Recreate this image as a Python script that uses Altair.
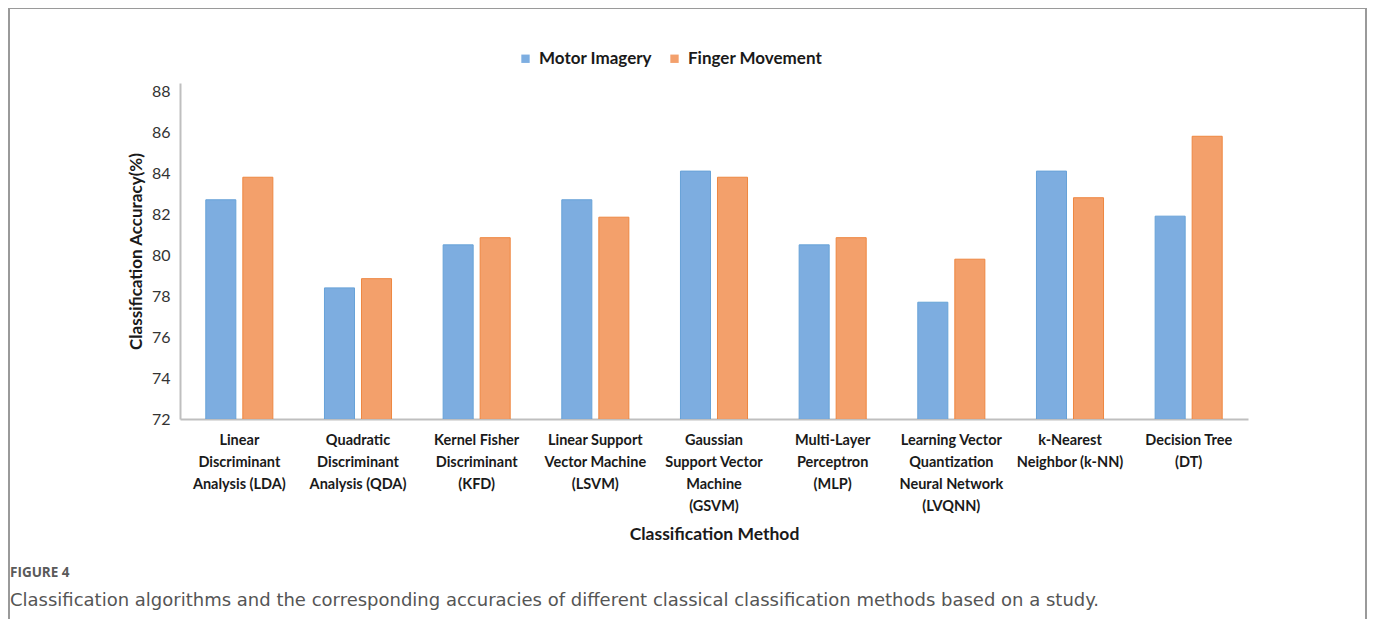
import altair as alt
import pandas as pd

methods = [
    "Linear|Discriminant|Analysis (LDA)",
    "Quadratic|Discriminant|Analysis (QDA)",
    "Kernel Fisher|Discriminant|(KFD)",
    "Linear Support|Vector Machine|(LSVM)",
    "Gaussian|Support Vector|Machine|(GSVM)",
    "Multi-Layer|Perceptron|(MLP)",
    "Learning Vector|Quantization|Neural Network|(LVQNN)",
    "k-Nearest|Neighbor (k-NN)",
    "Decision Tree|(DT)",
]
series = ["Motor Imagery", "Finger Movement"]
motor_imagery = [82.7, 78.4, 80.5, 82.7, 84.1, 80.5, 77.7, 84.1, 81.9]
finger_movement = [83.8, 78.85, 80.85, 81.85, 83.8, 80.85, 79.8, 82.8, 85.8]
y_ticks = [72, 74, 76, 78, 80, 82, 84, 86, 88]

rows = []
for i, m in enumerate(methods):
    rows.append({"method": m, "series": series[0], "value": motor_imagery[i]})
    rows.append({"method": m, "series": series[1], "value": finger_movement[i]})
df = pd.DataFrame(rows)

FONT = "Lato"

bars = alt.Chart(df).mark_bar(strokeWidth=1, opacity=0.92, clip=True).encode(
    x=alt.X(
        "method:N",
        sort=methods,
        scale=alt.Scale(paddingInner=0.376, paddingOuter=0.188),
        axis=alt.Axis(
            title="Classification Method",
            labelExpr="split(datum.label, '|')",
            labelAngle=0,
            labelFont=FONT,
            labelFontWeight="bold",
            labelFontSize=14.5,
            labelLineHeight=22,
            labelColor="#1a1a1a",
            labelPadding=14,
            labelBaseline="top",
            ticks=False,
            domainColor="#bfbfbf",
            domainWidth=2,
            titleFont=FONT,
            titleFontSize=17.5,
            titleFontWeight="bold",
            titleColor="#1a1a1a",
            titleY=115,
            titleBaseline="middle",
        ),
    ),
    xOffset=alt.XOffset(
        "series:N",
        sort=series,
        scale=alt.Scale(paddingInner=0.189, paddingOuter=0.0946),
    ),
    y=alt.Y(
        "value:Q",
        scale=alt.Scale(domain=[72, 88.4], nice=False, zero=False),
        axis=alt.Axis(
            title="Classification Accuracy(%)",
            values=y_ticks,
            grid=False,
            ticks=False,
            domainColor="#bfbfbf",
            domainWidth=2,
            labelFont=FONT,
            labelFontSize=16,
            labelColor="#333333",
            labelPadding=10,
            titleFont=FONT,
            titleFontSize=17,
            titleFontWeight="bold",
            titleColor="#1a1a1a",
            titlePadding=6,
        ),
    ),
    color=alt.Color(
        "series:N",
        sort=series,
        scale=alt.Scale(domain=series, range=["#72a7de", "#f2985f"]),
        legend=alt.Legend(
            title=None,
            orient="none",
            direction="horizontal",
            legendX=337,
            legendY=-33,
            symbolType="square",
            symbolSize=70,
            symbolStrokeWidth=0,
            labelFont=FONT,
            labelFontSize=17,
            labelFontWeight="bold",
            labelColor="#1a1a1a",
            columnPadding=14,
            labelOffset=5,
        ),
    ),
    stroke=alt.Stroke(
        "series:N",
        sort=series,
        scale=alt.Scale(domain=series, range=["#5b9bd5", "#ed7d31"]),
        legend=None,
    ),
)

one = pd.DataFrame({"k": [0]})
frame_color = "#9a9a9a"
frame_top = alt.Chart(one).mark_rule(color=frame_color, strokeWidth=2).encode(
    x=alt.value(-171), x2=alt.value(1186), y=alt.value(-75)
)
frame_left = alt.Chart(one).mark_rule(color=frame_color, strokeWidth=2).encode(
    x=alt.value(-171), y=alt.value(-75), y2=alt.value(560)
)
frame_right = alt.Chart(one).mark_rule(color=frame_color, strokeWidth=2).encode(
    x=alt.value(1186), y=alt.value(-75), y2=alt.value(560)
)

cap_df = pd.DataFrame({"t": ["FIGURE 4"]})
cap1 = alt.Chart(cap_df).mark_text(
    align="left", baseline="middle", font="Open Sans", fontSize=13.5,
    fontWeight="bold", color="#5a5a5a"
).encode(text="t:N", x=alt.value(-170), y=alt.value(490))
cap2_df = pd.DataFrame({"t": ["Classification algorithms and the corresponding accuracies of different classical classification methods based on a study."]})
cap2 = alt.Chart(cap2_df).mark_text(
    align="left", baseline="middle", font="DejaVu Sans", fontSize=18, color="#555555"
).encode(text="t:N", x=alt.value(-170), y=alt.value(518))

chart = alt.layer(bars, frame_top, frame_left, frame_right, cap1, cap2).properties(
    width=1068,
    height=336,
    autosize=alt.AutoSizeParams(type="none"),
    padding={"left": 172, "top": 75, "right": 119, "bottom": 200},
).configure_view(stroke=None).resolve_scale(color="independent")

chart.save("out.html", embed_options={"renderer": "svg", "actions": False})
